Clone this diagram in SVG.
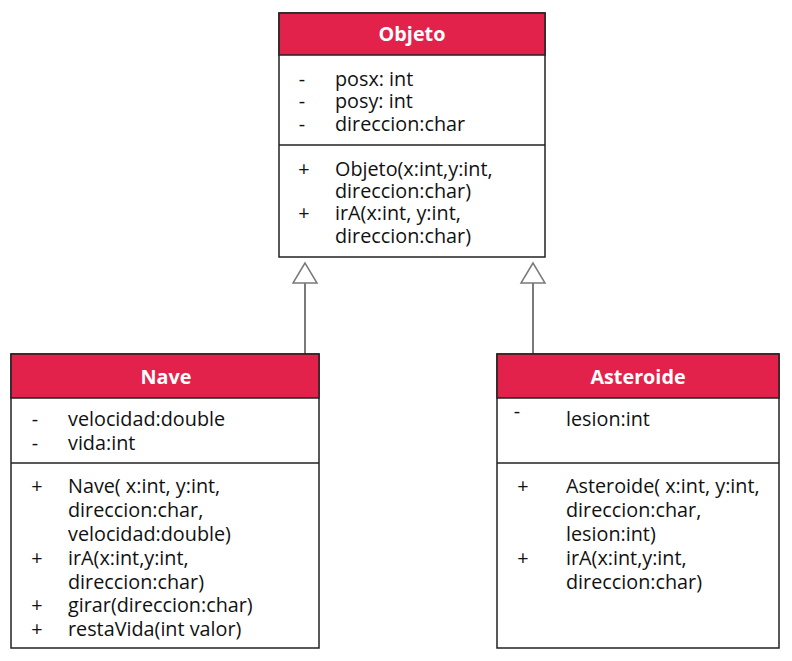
<svg xmlns="http://www.w3.org/2000/svg" width="792" height="661" viewBox="0 0 792 661">
<style>
.box{fill:#fff;stroke:#222;stroke-width:1.5}
.hdr{fill:#E3224B;stroke:#222;stroke-width:1.5}
.sep{stroke:#222;stroke-width:1.5}
.t{font-family:"Open Sans","Noto Sans",sans-serif;font-size:19.8px;fill:#111}
.h{font-family:"Open Sans","Noto Sans",sans-serif;font-size:19.8px;font-weight:bold;fill:#fff;text-anchor:middle}
.c{text-anchor:middle}
.conn{stroke:#7a7a7a;stroke-width:2;fill:none}
.tri{stroke:#7a7a7a;stroke-width:1.5;fill:#fff}
</style>
<g id="connectors">
<line class="conn" x1="305" y1="283" x2="305" y2="355"/>
<polygon class="tri" points="305,263 293,283 317,283"/>
<line class="conn" x1="533" y1="283" x2="533" y2="355"/>
<polygon class="tri" points="533,263 521,283 545,283"/>
</g>
<g id="Objeto">
<rect class="box" x="279" y="13" width="266" height="244"/>
<rect class="hdr" x="279" y="13" width="266" height="42"/>
<line class="sep" x1="279" y1="145" x2="545" y2="145"/>
<text class="h" x="412" y="41">Objeto</text>
<text class="t c" x="302" y="86">-</text><text class="t" x="335" y="86">posx: int</text>
<text class="t c" x="302" y="108">-</text><text class="t" x="335" y="108">posy: int</text>
<text class="t c" x="302" y="131">-</text><text class="t" x="335" y="131">direccion:char</text>
<text class="t c" x="304" y="176">+</text><text class="t" x="335" y="176">Objeto(x:int,y:int,</text>
<text class="t" x="335" y="198">direccion:char)</text>
<text class="t c" x="304" y="220">+</text><text class="t" x="335" y="220">irA(x:int, y:int,</text>
<text class="t" x="335" y="243">direccion:char)</text>
</g>
<g id="Nave">
<rect class="box" x="11" y="354" width="308" height="294"/>
<rect class="hdr" x="11" y="354" width="308" height="44"/>
<line class="sep" x1="11" y1="463" x2="319" y2="463"/>
<text class="h" x="166" y="384">Nave</text>
<text class="t c" x="35" y="426">-</text><text class="t" x="68" y="426">velocidad:double</text>
<text class="t c" x="35" y="450">-</text><text class="t" x="68" y="450">vida:int</text>
<text class="t c" x="37" y="493">+</text><text class="t" x="68" y="493">Nave( x:int, y:int,</text>
<text class="t" x="68" y="517">direccion:char,</text>
<text class="t" x="68" y="541">velocidad:double)</text>
<text class="t c" x="37" y="565">+</text><text class="t" x="68" y="565">irA(x:int,y:int,</text>
<text class="t" x="68" y="589">direccion:char)</text>
<text class="t c" x="37" y="612">+</text><text class="t" x="68" y="612">girar(direccion:char)</text>
<text class="t c" x="37" y="636">+</text><text class="t" x="68" y="636">restaVida(int valor)</text>
</g>
<g id="Asteroide">
<rect class="box" x="497" y="354" width="282" height="294"/>
<rect class="hdr" x="497" y="354" width="282" height="44"/>
<line class="sep" x1="497" y1="463" x2="779" y2="463"/>
<text class="h" x="638" y="384">Asteroide</text>
<text class="t c" x="517" y="418">-</text><text class="t" x="566" y="426">lesion:int</text>
<text class="t c" x="523" y="493">+</text><text class="t" x="566" y="493">Asteroide( x:int, y:int,</text>
<text class="t" x="566" y="517">direccion:char,</text>
<text class="t" x="566" y="541">lesion:int)</text>
<text class="t c" x="523" y="565">+</text><text class="t" x="566" y="565">irA(x:int,y:int,</text>
<text class="t" x="566" y="589">direccion:char)</text>
</g>
</svg>
